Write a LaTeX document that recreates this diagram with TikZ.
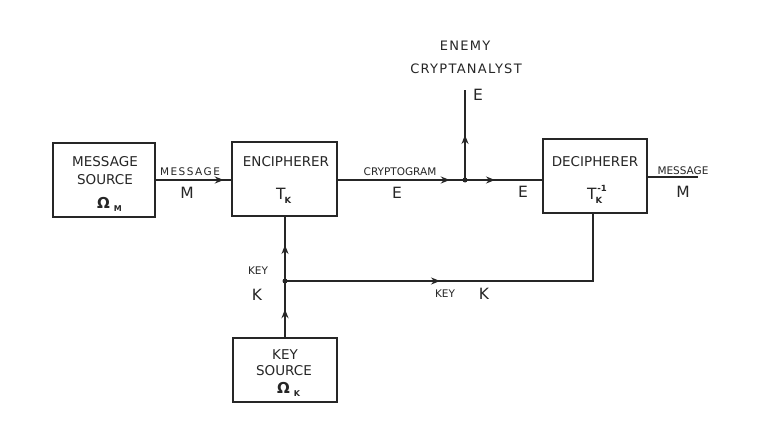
\documentclass[tikz,border=0pt]{standalone}
\usepackage{fontspec}
\setmainfont{DejaVu Sans}
\usetikzlibrary{arrows.meta,decorations.markings}
\definecolor{ink}{HTML}{262626}
\begin{document}
\begin{tikzpicture}[x=1pt,y=-1pt,
  ln/.style={line width=1.5pt, draw=ink},
  blk/.style={draw=ink, line width=1.6pt, inner sep=0pt},
  arr/.style={postaction={decorate}, decoration={markings,
      mark=at position #1 with {\arrow[ink]{Stealth[length=9pt,width=7pt,inset=3pt]}}}},
  jdot/.style={circle, fill=ink, inner sep=0pt, minimum size=5pt},
  boxtxt/.style={text=ink, inner sep=0pt, font=\fontsize{13.5}{16}\selectfont},
  small/.style={text=ink, inner sep=0pt, font=\fontsize{10.5}{12}\selectfont},
  big/.style={text=ink, inner sep=0pt, font=\fontsize{15.5}{18}\selectfont},
  mid/.style={text=ink, inner sep=0pt, font=\fontsize{13}{15}\selectfont\addfontfeatures{LetterSpace=10}}]
\useasboundingbox[fill=white] (0,0) rectangle (762,422);

% blocks
\node[blk, minimum width=102pt, minimum height=74pt] (ms) at (104,180) {};
\node[blk, minimum width=105pt, minimum height=74pt] (enc) at (284.5,179) {};
\node[blk, minimum width=104pt, minimum height=74pt] (dec) at (595,176) {};
\node[blk, minimum width=104pt, minimum height=64pt] (ks) at (285,370) {};

% block texts
\node[boxtxt] (ms1) at (105,162) {MESSAGE};
\node[boxtxt] (ms2) at (105,180) {SOURCE};
\node[boxtxt, anchor=base west] (ms3) at (97,208) {\bfseries\fontsize{15}{16}\selectfont Ω\hspace{4pt}\raisebox{-3pt}{\fontsize{8}{9}\selectfont M}};
\node[boxtxt] (enc1) at (286,162) {ENCIPHERER};
\node[big, anchor=base west] (enc2) at (276,199) {T\hspace{-1pt}\raisebox{-4pt}{\bfseries\fontsize{8.5}{9}\selectfont K}};
\node[boxtxt] (dec1) at (595,162) {DECIPHERER};
\node[big, anchor=base west] (dec2) at (587,199) {T\hspace{-1pt}\raisebox{-4pt}{\bfseries\fontsize{8.5}{9}\selectfont K}\hspace{-5pt}\raisebox{8pt}{\bfseries\fontsize{8.5}{9}\selectfont -1}};
\node[boxtxt] (ks1) at (285,355) {KEY};
\node[boxtxt] (ks2) at (284,371) {SOURCE};
\node[boxtxt, anchor=base west] (ks3) at (277,393) {\bfseries\fontsize{15}{16}\selectfont Ω\hspace{4pt}\raisebox{-3pt}{\fontsize{8}{9}\selectfont K}};

% junctions and free ends
\coordinate (j1) at (465,180);
\coordinate (ea) at (465,90);
\coordinate (j2) at (285,281);
\coordinate (kc) at (593,281);
\coordinate (mo) at (698,177);
\node[jdot] (d1) at (j1) {};
\node[jdot] (d2) at (j2) {};

% connectors
\draw[ln, arr=68pt] (ms.east) -- (ms.east -| enc.west);
\draw[ln, arr=112pt] (enc.east |- j1) -- (j1);
\draw[ln, arr=30pt] (j1) -- (j1 -| dec.west);
\draw[ln, arr=45pt] (j1) -- (ea);
\draw[ln, arr=28pt] (ks.north) -- (j2);
\draw[ln, arr=36pt] (j2) -- (j2 |- enc.south);
\draw[ln, arr=155pt] (j2) -- (kc) -- (kc |- dec.south);
\draw[ln] (dec.east |- mo) -- (mo);

% labels
\node[small] (l1) at (190,172) {\addfontfeatures{LetterSpace=14}MESSAGE};
\node[big] (l2) at (187,193) {M};
\node[small] (l3) at (400,172) {CRYPTOGRAM};
\node[big] (l4) at (397,193) {E};
\node[mid] (l5) at (465,46) {ENEMY};
\node[mid] (l6) at (466,69) {CRYPTANALYST};
\node[big] (l7) at (478,95) {E};
\node[big] (l8) at (523,192) {E};
\node[small] (l9) at (683,171) {MESSAGE};
\node[big] (l10) at (683,192) {M};
\node[small] (l11) at (258,271) {KEY};
\node[big] (l12) at (257,295) {K};
\node[small] (l13) at (445,294) {KEY};
\node[big] (l14) at (484,294) {K};
\end{tikzpicture}
\end{document}
